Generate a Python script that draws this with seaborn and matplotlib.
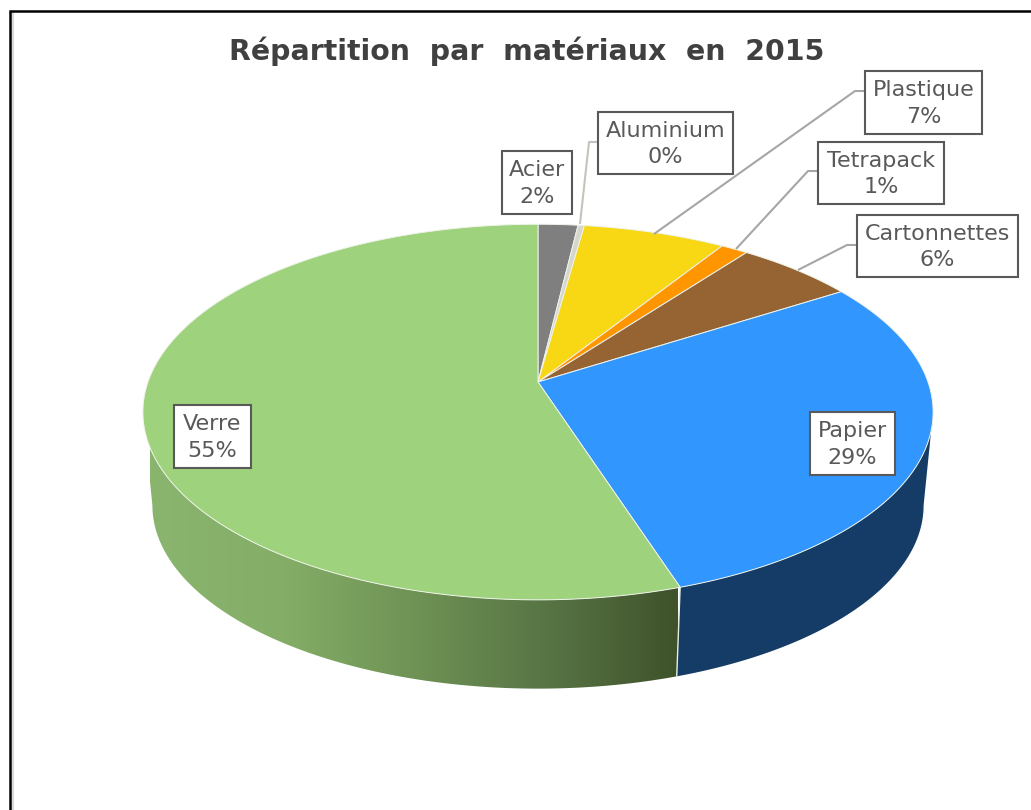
import numpy as np
import matplotlib
matplotlib.use("Agg")
import matplotlib.pyplot as plt
import seaborn as sns
from matplotlib.colors import LinearSegmentedColormap
from matplotlib.patches import Polygon, Rectangle

# values (labels round them)
materials = ["Acier", "Aluminium", "Plastique", "Tetrapack", "Cartonnettes", "Papier", "Verre"]
shares = [1.9, 0.3, 6.8, 1.3, 5.7, 29.0, 55.0]
labels_pct = ["2%", "0%", "7%", "1%", "6%", "29%", "55%"]
top_colors = ["#7f7f7f", "#d6d6cc", "#f8d715", "#ff9600", "#966432", "#3296ff", "#9fd27d"]
side_colors = ["#3f3f3f", "#6b6b66", "#7c6b0a", "#804b00", "#4b3219", "#153c66", "#8ab56e"]
title = "Répartition  par  matériaux  en  2015"

# label boxes: left, right, top, bottom in pixels
boxes = [
    (502, 572, 151, 214),
    (598, 733, 112, 174),
    (865, 982, 71, 134),
    (818, 944, 142, 204),
    (857, 1018, 215, 277),
    (810, 895, 412, 475),
    (174, 251, 405, 468),
]
# leader lines, None when the label sits on the slice
leaders = [
    None,
    [(598, 142), (589, 142), (580, 224)],
    [(865, 91), (855, 91), (654, 234)],
    [(818, 171), (808, 171), (736, 249)],
    [(857, 245), (847, 245), (798, 270)],
    None,
    None,
]
leader_colors = [None, "#c4c4bc", "#a6a6a6", "#a6a6a6", "#a6a6a6", None, None]

# projection of the tilted disc
CX, CY = 538, 382
A, B, K = 390, 183, 0.16
SHRINK, DEPTH = 0.976, 94


def project(fraction):
    theta = 2 * np.pi * np.asarray(fraction)
    den = 1 + K * np.cos(theta)
    return CX + A * np.sin(theta) / den, CY - B * np.cos(theta) / den


def lower(x, y):
    return CX + (x - CX) * SHRINK, CY + (y - CY) * SHRINK + DEPTH


sns.set_theme(style="white")
plt.rcParams["font.family"] = ["DejaVu Sans"]
palette = sns.color_palette(top_colors)

fig = plt.figure(figsize=(10.31, 8.10), dpi=100)
ax = fig.add_axes([0, 0, 1, 1])

ends = np.cumsum(shares) / np.sum(shares)
starts = np.concatenate([[0], ends[:-1]])

# the wall only shows between the right and left extremes of the rim
grid = np.linspace(0, 1, 2001)
front_start = grid[np.argmax(project(grid)[0])]
front_end = grid[np.argmin(project(grid)[0])]

# side wall first, the top face covers the rest
for name, s, e, col in zip(materials, starts, ends, side_colors):
    s2, e2 = max(s, front_start), min(e, front_end)
    if s2 >= e2:
        continue
    x, y = project(np.linspace(s2, e2, 200))
    xl, yl = lower(x, y)
    pts = np.column_stack([np.r_[x, xl[::-1]], np.r_[y, yl[::-1]]])
    if name == "Verre":
        patch = Polygon(pts, closed=True, fc="none", ec="none")
        ax.add_patch(patch)
        ramp = LinearSegmentedColormap.from_list(
            "side", ["#8ab56e", "#84ae67", "#6f9255", "#587545", "#3f522b"])
        img = ax.imshow(np.linspace(0, 1, 256).reshape(1, -1), cmap=ramp,
                        extent=(150, 678, 700, 400), aspect="auto", zorder=1)
        img.set_clip_path(patch)
    else:
        ax.add_patch(Polygon(pts, closed=True, fc=col, ec="none", zorder=1))
    # seam at the end of the slice
    if name == "Papier":
        ex, ey = project(e)
        ex2, ey2 = lower(ex, ey)
        ax.plot([ex, ex2], [ey, ey2], color="#e6eedd", lw=1.0, zorder=2)

for s, e, col in zip(starts, ends, palette):
    x, y = project(np.linspace(s, e, 200))
    pts = np.column_stack([np.r_[CX, x], np.r_[CY, y]])
    ax.add_patch(Polygon(pts, closed=True, fc=col, ec="#eef3ea", lw=0.7, zorder=3))

for path, col in zip(leaders, leader_colors):
    if path is not None:
        xs, ys = zip(*path)
        ax.plot(xs, ys, color=col, lw=1.5, zorder=4, solid_capstyle="butt")

for name, pct, (x0, x1, y0, y1) in zip(materials, labels_pct, boxes):
    ax.add_patch(Rectangle((x0, y0), x1 - x0, y1 - y0, fc="white", ec="#595959", lw=1.5, zorder=5))
    ax.text((x0 + x1) / 2, (y0 + y1) / 2 + 1, f"{name}\n{pct}", ha="center", va="center",
            multialignment="center", fontsize=16, color="#595959", linespacing=1.4, zorder=6)

ax.text(527, 51, title, ha="center", va="center", fontsize=20.4, fontweight="bold", color="#404040")

# page frame, runs off the right and the bottom
ax.plot([12.5, 12.5], [13, 810], color="#d9d9d9", lw=1.5)
ax.plot([10, 10, 1031], [810, 11, 11], color="black", lw=1.8, solid_joinstyle="miter")

ax.set_xlim(0, 1031)
ax.set_ylim(810, 0)
ax.axis("off")
fig.savefig("out.png", dpi=100, facecolor="white")
